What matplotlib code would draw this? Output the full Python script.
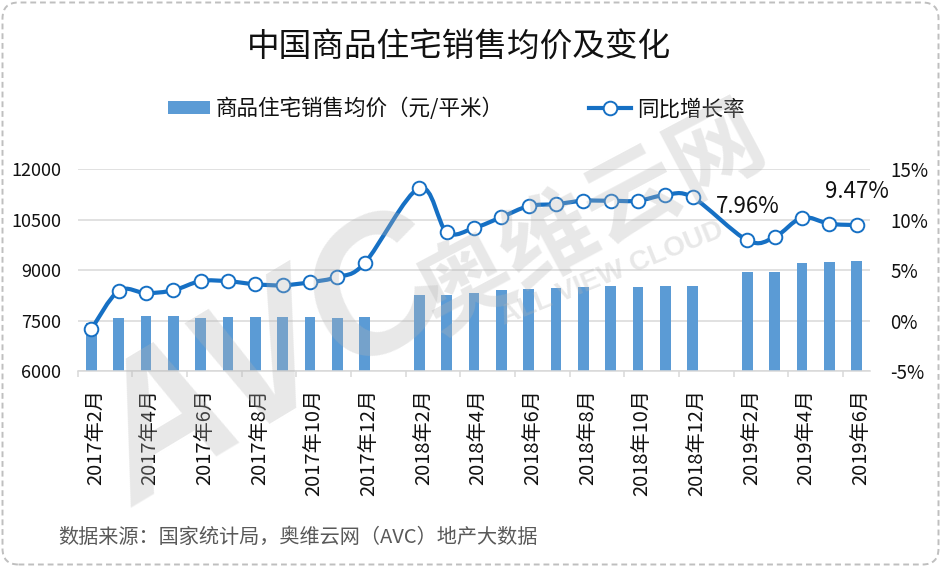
import numpy as np
import matplotlib
matplotlib.use("Agg")
import matplotlib.pyplot as plt
from matplotlib.path import Path
from matplotlib.patches import PathPatch, FancyBboxPatch, Patch
from matplotlib.lines import Line2D
from matplotlib.transforms import IdentityTransform, ScaledTranslation

plt.rcParams['font.family'] = ['Noto Sans CJK SC', 'DejaVu Sans']

# ---------------- data ----------------
months = ["2017年2月", "2017年3月", "2017年4月", "2017年5月", "2017年6月", "2017年7月",
          "2017年8月", "2017年9月", "2017年10月", "2017年11月", "2017年12月",
          "2018年1月", "2018年2月", "2018年3月", "2018年4月", "2018年5月", "2018年6月",
          "2018年7月", "2018年8月", "2018年9月", "2018年10月", "2018年11月", "2018年12月",
          "2019年1月", "2019年2月", "2019年3月", "2019年4月", "2019年5月", "2019年6月"]
price = [7430, 7585, 7645, 7645, 7585, 7615, 7615, 7615, 7615, 7585, 7615,
         np.nan, 8272, 8272, 8332, 8418, 8452, 8482, 8512, 8542, 8512, 8542, 8542,
         np.nan, 8955, 8955, 9200, 9230, 9260]
yoy = [-0.85, 2.95, 2.72, 3.0, 3.92, 3.9, 3.6, 3.5, 3.8, 4.32, 5.7,
       np.nan, 13.15, 8.78, 9.18, 10.25, 11.35, 11.55, 11.88, 11.88, 11.88, 12.45, 12.22,
       np.nan, 7.96, 8.28, 10.2, 9.6, 9.47]
labelled = {"2019年2月": "7.96%", "2019年6月": "9.47%"}
title = "中国商品住宅销售均价及变化"
bar_name = "商品住宅销售均价（元/平米）"
line_name = "同比增长率"
source = "数据来源：国家统计局，奥维云网（AVC）地产大数据"

BAR_C = "#5B9BD5"
LINE_C = "#1670C4"
GRID_C = "#D9D9D9"

W, H = 941, 567
fig = plt.figure(figsize=(W / 100, H / 100), dpi=100)
ax = fig.add_axes([77.7 / W, 1 - 371 / H, (870.3 - 77.7) / W, (371 - 169.3) / H])
ax2 = ax.twinx()

x = np.arange(len(months))
price_arr = np.array(price, dtype=float)
yoy_arr = np.array(yoy, dtype=float)

ax.bar(x, price_arr, width=0.4, color=BAR_C, zorder=2)
ax.set_xlim(-0.5, len(months) - 0.5)
ax.set_ylim(6000, 12000)
ax.set_yticks(np.arange(6000, 12001, 1500))
ax.yaxis.grid(True, color=GRID_C, lw=1.1, zorder=0)
ax.set_axisbelow(True)
for s in ["top", "left", "right"]:
    ax.spines[s].set_visible(False)
ax.spines["bottom"].set_color(GRID_C)
ax.spines["bottom"].set_linewidth(1.1)
ax.tick_params(axis='y', length=0, pad=12, labelsize=13, labelcolor="#111111")

ax.set_xticks(x[::2])
ax.set_xticklabels([months[i] for i in x[::2]], rotation=90, fontsize=14.5, color="#111111")
ax.tick_params(axis='x', which='major', length=0, pad=13)
ax.set_xticks(np.arange(-0.5, len(months) - 1, 2), minor=True)
ax.tick_params(axis='x', which='minor', length=4.5, width=1.1, color=GRID_C)
for lab in ax.get_xticklabels():
    lab.set_transform(lab.get_transform() + ScaledTranslation(4 / 100, 0, fig.dpi_scale_trans))

# ---------------- smoothed YoY line ----------------
ax2.set_ylim(-5, 15)
ax2.set_yticks(np.arange(-5, 16, 5))
ax2.set_yticklabels([f"{v}%" for v in range(-5, 16, 5)])
ax2.tick_params(axis='y', length=0, pad=14.5, labelsize=13.5, labelcolor="#111111")
for s in ax2.spines.values():
    s.set_visible(False)

valid = ~np.isnan(yoy_arr)
pts = np.column_stack([x[valid], yoy_arr[valid]])
verts = [pts[0]]
codes = [Path.MOVETO]
n = len(pts)
for i in range(n - 1):
    p0 = pts[i - 1] if i > 0 else pts[i]
    p1 = pts[i]
    p2 = pts[i + 1]
    p3 = pts[i + 2] if i + 2 < n else pts[i + 1]
    c1 = p1 + (p2 - p0) / 6.0
    c2 = p2 - (p3 - p1) / 6.0
    verts += [c1, c2, p2]
    codes += [Path.CURVE4] * 3
ax2.add_patch(PathPatch(Path(verts, codes), fill=False, edgecolor=LINE_C, lw=3.0,
                        capstyle='round', joinstyle='round', zorder=3))
ax2.plot(x[valid], yoy_arr[valid], ls='none', marker='o', ms=9.8, mfc='white',
         mec=LINE_C, mew=1.4, zorder=4)

for i, m in enumerate(months):
    if m in labelled:
        ax2.annotate(labelled[m], (x[i], yoy_arr[i]), xytext=(0, 24.5),
                     textcoords='offset points', ha='center', va='center',
                     fontsize=16, color="#111111", zorder=5)

# ---------------- title / legend / source ----------------
fig.text(459 / W, 1 - 48 / H, title, ha='center', va='center', fontsize=23.5, color="#111111")

handles = [Patch(facecolor=BAR_C, edgecolor='none'),
           Line2D([0], [0], color=LINE_C, lw=3.0, marker='o', ms=9.8, mfc='white',
                  mec=LINE_C, mew=1.4)]
fig.legend(handles, [bar_name, line_name], loc='center', ncol=2,
           bbox_to_anchor=(456 / W, 1 - 109 / H), frameon=False, fontsize=15.5,
           handlelength=1.95, handleheight=0.6, handletextpad=0.25, columnspacing=4.0,
           borderpad=0, labelcolor="#111111")

fig.text(58 / W, 1 - 537 / H, source, ha='left', va='center', fontsize=14.5, color="#595959")

# ---------------- watermark ----------------
wm = dict(color="#B4B4B4", alpha=0.3, ha='center', va='center', zorder=10)
fig.text(275 / W, 1 - 366 / H, "AVC", fontsize=136, fontweight='bold', fontstyle='italic',
         family='Liberation Sans', rotation=31, **wm)
fig.text(592 / W, 1 - 220 / H, "奥维云网", fontsize=68, fontweight='bold', rotation=28, **wm)
fig.text(612 / W, 1 - 274 / H, "ALL VIEW CLOUD", fontsize=20, fontweight='bold',
         family='Liberation Sans', rotation=22, **wm)

# ---------------- border ----------------
fig.patches.append(FancyBboxPatch((2.5, 2.5), W - 5, H - 5,
                                  boxstyle="round,pad=0,rounding_size=16",
                                  transform=IdentityTransform(), fill=False,
                                  edgecolor="#BFBFBF", lw=1.4, ls=(0, (3, 2))))

fig.savefig("out.png", dpi=100)
